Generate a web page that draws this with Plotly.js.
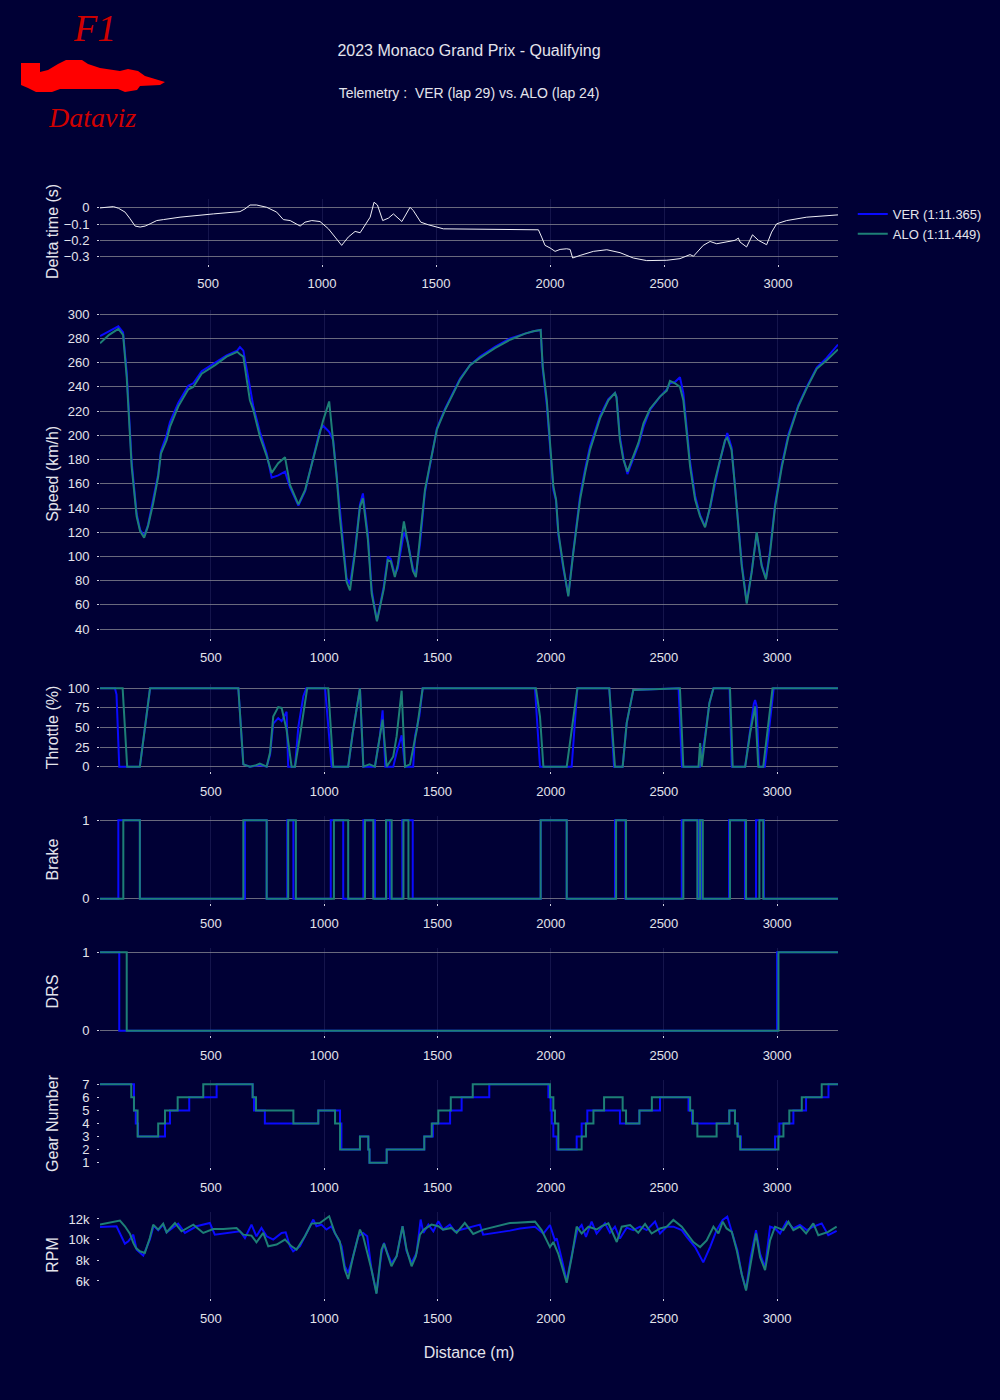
<!DOCTYPE html>
<html>
<head>
<meta charset="utf-8">
<script src="https://cdn.plot.ly/plotly-3.0.1.min.js"></script>
<style>html,body{margin:0;padding:0;background:#000035;}</style>
</head>
<body>
<div id="chart" style="width:1000px;height:1400px;"></div>
<script>
// ---------------- DATA ----------------
const drivers = ['VER (1:11.365)', 'ALO (1:11.449)'];

const deltaDist = [26, 85, 107, 136, 158, 180, 202, 224, 246, 275, 304, 377, 523, 640, 662, 684, 713, 757, 801, 830, 860, 889, 904, 925, 955, 991, 1028, 1057, 1086, 1115, 1145, 1167, 1196, 1211, 1228, 1243, 1266, 1291, 1313, 1350, 1386, 1400, 1433, 1466, 1532, 1700, 1949, 1963, 1978, 2000, 2022, 2044, 2073, 2088, 2099, 2132, 2190, 2249, 2307, 2365, 2424, 2512, 2570, 2614, 2629, 2672, 2702, 2731, 2775, 2811, 2826, 2833, 2862, 2888, 2914, 2950, 2972, 2994, 3038, 3126, 3263];
const deltaTime = [0, 0.008, -0.002, -0.026, -0.067, -0.112, -0.118, -0.112, -0.098, -0.078, -0.072, -0.057, -0.037, -0.023, -0.006, 0.018, 0.018, 0.004, -0.026, -0.072, -0.078, -0.098, -0.112, -0.088, -0.078, -0.084, -0.129, -0.18, -0.231, -0.18, -0.145, -0.153, -0.088, -0.057, 0.035, 0.018, -0.078, -0.063, -0.037, -0.084, 0.004, -0.016, -0.088, -0.104, -0.129, -0.13, -0.135, -0.18, -0.231, -0.247, -0.268, -0.256, -0.252, -0.256, -0.309, -0.293, -0.268, -0.258, -0.276, -0.309, -0.325, -0.323, -0.313, -0.288, -0.298, -0.231, -0.207, -0.221, -0.207, -0.2, -0.186, -0.21, -0.241, -0.166, -0.2, -0.227, -0.149, -0.098, -0.078, -0.057, -0.043];

const speedDist = [10, 50, 91, 112, 128, 150, 172, 187, 205, 222, 245, 267, 279, 304, 319, 356, 400, 422, 459, 518, 569, 616, 628, 643, 658, 672, 687, 716, 746, 768, 797, 827, 849, 886, 916, 952, 981, 995, 1022, 1040, 1055, 1069, 1091, 1099, 1114, 1136, 1158, 1171, 1193, 1210, 1233, 1263, 1281, 1294, 1312, 1325, 1352, 1369, 1392, 1405, 1423, 1445, 1467, 1498, 1534, 1565, 1600, 1644, 1688, 1754, 1821, 1887, 1924, 1956, 1965, 1983, 1997, 2012, 2024, 2034, 2056, 2078, 2100, 2130, 2152, 2174, 2218, 2255, 2284, 2291, 2306, 2321, 2339, 2365, 2388, 2410, 2439, 2483, 2513, 2527, 2549, 2571, 2586, 2601, 2616, 2638, 2660, 2682, 2704, 2726, 2748, 2770, 2780, 2799, 2814, 2829, 2844, 2866, 2888, 2910, 2932, 2951, 2969, 2991, 3021, 3050, 3094, 3131, 3175, 3219, 3269];
const speedVER = [282, 286, 290, 285, 252, 178, 135, 122, 117, 126, 146, 168, 187, 200, 211, 227, 241, 243, 253, 260, 266, 270, 273, 270, 256, 240, 224, 203, 185, 165, 167, 170, 157, 142, 154, 182, 204, 208, 203, 196, 168, 136, 97, 82, 77, 105, 143, 152, 118, 72, 47, 75, 100, 98, 85, 90, 120, 112, 90, 85, 110, 153, 175, 206, 222, 234, 247, 258, 265, 273, 280, 284, 286, 287, 255, 225, 190, 155, 146, 118, 90, 68, 104, 150, 172, 191, 216, 230, 235, 232, 199, 182, 168, 180, 192, 207, 221, 232, 238, 243, 244, 248, 235, 206, 178, 150, 134, 125, 140, 160, 179, 195, 202, 190, 160, 127, 94, 62, 88, 119, 93, 82, 105, 143, 176, 201, 225, 240, 256, 264, 275];
const speedALO = [276, 283, 288, 283, 248, 174, 133, 121, 115.5, 125, 144, 166, 185, 196, 207, 224, 238, 240, 251, 258, 265, 269, 267, 265, 246, 229, 221, 199, 183, 169, 177, 182, 159, 143, 155, 180, 202, 212, 228, 196, 166, 133, 95, 79, 72, 103, 141, 148, 114, 69, 46.5, 73, 97, 96, 83, 93, 129, 110, 88, 83, 114, 155, 176, 205, 221, 233, 246, 258, 264, 272, 279, 284, 286, 287, 257, 229, 194, 158, 147, 120, 92, 67, 103, 147, 169, 188, 214, 229, 235, 231, 196, 180, 170, 183, 194, 210, 222, 232, 237, 245, 243, 240, 229, 202, 174, 147, 133, 124, 141, 163, 180, 196, 198, 188, 158, 125, 92, 61, 87, 120, 92, 81, 103, 141, 174, 199, 224, 239, 255, 262, 271];

const throttleDistVER = [10, 76, 83, 95, 186, 231, 621, 643, 672, 716, 746, 761, 775, 797, 812, 834, 841, 871, 886, 908, 921, 1004, 1033, 1106, 1126, 1158, 1173, 1224, 1246, 1258, 1270, 1305, 1320, 1342, 1357, 1393, 1401, 1420, 1435, 1931, 1953, 2093, 2118, 2259, 2280, 2318, 2336, 2365, 2565, 2580, 2660, 2682, 2701, 2719, 2790, 2800, 2859, 2881, 2897, 2903, 2910, 2920, 2946, 2985, 3269];
const throttleVER = [100, 100, 92, 0, 0, 100, 100, 3, 0, 2, 0, 15, 55, 62, 58, 70, 0, 0, 51, 90, 100, 100, 0, 0, 43, 100, 0, 0, 39, 72, 0, 0, 18, 40, 0, 0, 39, 64, 100, 100, 0, 0, 100, 100, 0, 0, 56, 98, 100, 0, 0, 39, 81, 100, 100, 0, 0, 43, 80, 85, 77, 0, 0, 100, 100];
const throttleDistALO = [10, 110, 130, 186, 231, 621, 643, 672, 700, 716, 746, 761, 775, 797, 812, 834, 856, 871, 893, 908, 925, 1018, 1040, 1106, 1126, 1158, 1173, 1200, 1224, 1246, 1258, 1276, 1305, 1320, 1342, 1357, 1379, 1409, 1435, 1935, 1953, 1968, 2071, 2118, 2259, 2284, 2318, 2336, 2365, 2571, 2586, 2653, 2660, 2667, 2682, 2701, 2719, 2792, 2804, 2859, 2881, 2903, 2917, 2939, 2980, 3269];
const throttleALO = [100, 100, 0, 0, 100, 100, 3, 0, 2, 4, 0, 18, 64, 76, 75, 47, 0, 0, 39, 68, 100, 100, 0, 0, 43, 100, 0, 3, 0, 39, 60, 0, 13, 39, 97, 0, 3, 47, 100, 100, 64, 0, 0, 100, 100, 0, 0, 56, 98, 100, 0, 0, 30, 0, 39, 81, 100, 100, 0, 0, 43, 77, 0, 0, 100, 100];

const brakeDistVER = [10, 91, 186, 650, 746, 837, 864, 1029, 1084, 1173, 1224, 1275, 1290, 1345, 1391, 1956, 2071, 2284, 2330, 2579, 2650, 2658, 2668, 2788, 2858, 2907, 2942, 3269];
const brakeVER = [0, 1, 0, 1, 0, 1, 0, 1, 0, 1, 0, 1, 0, 1, 0, 1, 0, 1, 0, 1, 0, 1, 0, 1, 0, 1, 0, 0];
const brakeDistALO = [10, 113, 186, 643, 746, 841, 875, 1043, 1106, 1180, 1217, 1273, 1298, 1350, 1372, 1956, 2071, 2289, 2333, 2586, 2648, 2660, 2672, 2792, 2863, 2922, 2939, 3269];
const brakeALO = [0, 1, 0, 1, 0, 1, 0, 1, 0, 1, 0, 1, 0, 1, 0, 1, 0, 1, 0, 1, 0, 1, 0, 1, 0, 1, 0, 0];

const drsDistVER = [10, 95, 3000, 3269];
const drsVER = [1, 0, 1, 1];
const drsDistALO = [10, 128, 3006, 3269];
const drsALO = [1, 0, 1, 1];

const gearDistVER = [10, 160, 168, 178, 297, 319, 404, 525, 684, 690, 738, 974, 1070, 1076, 1158, 1195, 1200, 1276, 1442, 1480, 1556, 1607, 1729, 1990, 2000, 2005, 2012, 2027, 2115, 2137, 2162, 2196, 2306, 2392, 2483, 2609, 2624, 2789, 2814, 2828, 2840, 2991, 3010, 3072, 3128, 3227, 3269];
const gearVER = [7, 5, 4, 3, 4, 5, 6, 7, 6, 5, 4, 5, 4, 2, 3, 2, 1, 2, 3, 4, 5, 6, 7, 6, 5, 4, 3, 2, 3, 4, 5, 5, 4, 5, 6, 5, 4, 5, 4, 3, 2, 3, 4, 5, 6, 7, 7];
const gearDistALO = [10, 148, 160, 176, 267, 297, 353, 466, 684, 699, 864, 974, 1048, 1070, 1158, 1195, 1200, 1276, 1442, 1475, 1504, 1559, 1656, 1997, 2012, 2019, 2034, 2137, 2156, 2189, 2236, 2318, 2333, 2392, 2447, 2616, 2628, 2648, 2733, 2789, 2814, 2825, 2837, 3006, 3028, 3054, 3109, 3197, 3269];
const gearALO = [7, 6, 5, 3, 4, 5, 6, 7, 6, 5, 4, 5, 4, 2, 3, 2, 1, 2, 3, 4, 5, 6, 7, 6, 5, 4, 2, 3, 4, 5, 6, 5, 4, 5, 6, 5, 4, 3, 4, 5, 4, 3, 2, 3, 4, 5, 6, 7, 7];

const rpmDistVER = [10, 83, 120, 135, 157, 172, 201, 230, 247, 267, 289, 304, 355, 385, 436, 495, 517, 584, 628, 650, 679, 701, 723, 746, 775, 812, 830, 849, 863, 893, 922, 952, 966, 988, 1010, 1032, 1055, 1077, 1091, 1106, 1128, 1150, 1172, 1190, 1209, 1231, 1253, 1264, 1279, 1297, 1320, 1346, 1364, 1386, 1408, 1426, 1438, 1460, 1482, 1504, 1525, 1555, 1577, 1614, 1651, 1688, 1702, 1761, 1820, 1865, 1931, 1968, 1997, 2019, 2027, 2049, 2071, 2093, 2118, 2137, 2156, 2181, 2203, 2240, 2262, 2284, 2306, 2336, 2365, 2395, 2424, 2461, 2483, 2513, 2542, 2579, 2601, 2638, 2674, 2704, 2733, 2760, 2780, 2807, 2825, 2844, 2863, 2883, 2907, 2925, 2947, 2969, 2991, 3013, 3042, 3072, 3101, 3131, 3160, 3197, 3226, 3263];
const rpmVER = [11230, 11290, 9610, 9840, 10480, 9030, 8450, 10000, 11350, 10900, 11450, 10700, 11550, 10650, 11290, 11610, 10480, 10650, 10810, 10160, 11450, 10320, 11130, 10320, 10000, 10650, 10710, 9350, 8870, 9350, 10650, 11940, 11290, 11450, 10970, 11290, 10320, 9350, 7420, 6770, 8390, 10320, 10650, 10320, 7100, 4840, 8710, 9680, 8710, 7740, 8390, 11290, 8870, 7740, 8710, 11940, 10650, 11450, 10810, 11770, 10970, 11450, 10810, 11030, 11290, 11450, 10480, 10650, 10870, 11080, 11250, 10590, 11410, 9930, 10100, 8130, 6000, 8460, 10920, 11410, 10260, 11740, 10590, 11570, 10660, 11250, 10100, 11160, 10920, 11250, 10920, 11740, 10590, 11250, 11250, 10920, 10260, 9280, 7800, 9280, 10920, 11900, 12230, 10260, 8950, 6650, 5180, 8290, 10920, 8620, 7310, 11250, 11080, 10590, 11740, 11080, 11410, 10920, 11250, 11570, 10430, 10850];
const rpmDistALO = [10, 54, 98, 120, 142, 157, 169, 186, 208, 230, 245, 267, 289, 304, 341, 370, 422, 466, 510, 554, 613, 643, 679, 701, 731, 753, 790, 827, 856, 878, 915, 944, 981, 1022, 1047, 1069, 1091, 1106, 1128, 1158, 1172, 1187, 1209, 1231, 1253, 1264, 1283, 1297, 1320, 1346, 1364, 1386, 1405, 1423, 1440, 1474, 1504, 1525, 1562, 1585, 1621, 1658, 1702, 1761, 1820, 1850, 1931, 1960, 1997, 2012, 2034, 2056, 2071, 2093, 2115, 2137, 2167, 2203, 2226, 2255, 2292, 2314, 2351, 2387, 2417, 2446, 2483, 2513, 2542, 2579, 2601, 2630, 2660, 2689, 2719, 2741, 2760, 2777, 2800, 2822, 2844, 2863, 2883, 2907, 2925, 2947, 2969, 2991, 3028, 3050, 3072, 3101, 3128, 3160, 3182, 3226, 3263];
const rpmALO = [11450, 11680, 11840, 11290, 10580, 9680, 9190, 8870, 8710, 10160, 11450, 10970, 11550, 10710, 11610, 10810, 11450, 10650, 11030, 11030, 11130, 10480, 10390, 9740, 10650, 9350, 9520, 10000, 9350, 9030, 10320, 11550, 11610, 12260, 10650, 9840, 7100, 6190, 8390, 10970, 10320, 9030, 7100, 4770, 9030, 9610, 8390, 7420, 8390, 11290, 9030, 7420, 8390, 10480, 10970, 11450, 11290, 10970, 11130, 10650, 11610, 10550, 10970, 11290, 11610, 11640, 11740, 10920, 9280, 9770, 8620, 6980, 5830, 8290, 11250, 10590, 11250, 10980, 11310, 11570, 9770, 11250, 11410, 10660, 11510, 10590, 11080, 11250, 11900, 11250, 10590, 9770, 9280, 9930, 11250, 10590, 11740, 11080, 10750, 8950, 6650, 5080, 7640, 10590, 8290, 7050, 9930, 11250, 10920, 11740, 10920, 11250, 10590, 11570, 10430, 10750, 11250];

const panelTitles = ['Delta time (s)', 'Speed (km/h)', 'Throttle (%)', 'Brake', 'DRS', 'Gear Number', 'RPM'];

// ---------------- STYLE ----------------
const BG = '#000035';
const TXT = '#e4e4ec';
const GRID = 'rgba(140,140,150,0.75)';
const VGRID = 'rgba(60,60,120,0.35)';
const C_VER = '#0a0aff';
const C_ALO = '#1d7f76';

function pair(n, xv, yv, xa, ya, shape, legend) {
  const s = n === 1 ? '' : String(n);
  return [
    {x: xv, y: yv, xaxis: 'x' + s, yaxis: 'y' + s,
     type: 'scatter', mode: 'lines', name: drivers[0], showlegend: legend,
     line: {color: C_VER, width: 2, shape: shape}},
    {x: xa, y: ya, xaxis: 'x' + s, yaxis: 'y' + s,
     type: 'scatter', mode: 'lines', name: drivers[1], showlegend: legend,
     line: {color: C_ALO, width: 2, shape: shape}}
  ];
}

const traces = [
  {x: deltaDist, y: deltaTime, type: 'scatter', mode: 'lines', xaxis: 'x', yaxis: 'y',
   showlegend: false, name: 'Delta', line: {color: '#eeeef5', width: 1}}
].concat(
  pair(2, speedDist, speedVER, speedDist, speedALO, 'linear', true),
  pair(3, throttleDistVER, throttleVER, throttleDistALO, throttleALO, 'linear', false),
  pair(4, brakeDistVER, brakeVER, brakeDistALO, brakeALO, 'hv', false),
  pair(5, drsDistVER, drsVER, drsDistALO, drsALO, 'hv', false),
  pair(6, gearDistVER, gearVER, gearDistALO, gearALO, 'hv', false),
  pair(7, rpmDistVER, rpmVER, rpmDistALO, rpmALO, 'linear', false)
);

const domains = [[0.941, 1.0], [0.6009, 0.899], [0.4795, 0.5587], [0.3594, 0.4386], [0.2393, 0.3185], [0.1192, 0.1984], [0, 0.0783]];
const yd = [0.1, 20, 25, 1, 1, 1, 2000];
const hgrid = [true, true, true, true, true, false, false];

const layout = {
  width: 1000, height: 1400,
  paper_bgcolor: BG, plot_bgcolor: BG,
  font: {family: 'Arial, "Liberation Sans", sans-serif', color: TXT, size: 13},
  margin: {l: 100, r: 162, t: 199, b: 102},
  title: {
    text: '2023 Monaco Grand Prix - Qualifying<br><br><span style="font-size:14px">Telemetry :\u00a0 VER (lap 29) vs. ALO (lap 24)</span>',
    x: 0.5, xref: 'paper', xanchor: 'center', y: 0.9599, yref: 'container', yanchor: 'top',
    font: {size: 16, color: TXT}
  },
  legend: {x: 1.02, y: 1, xanchor: 'left', yanchor: 'top', font: {size: 13, color: TXT},
           bgcolor: 'rgba(0,0,0,0)', tracegroupgap: 0},
  showlegend: true,
  annotations: [
    {text: '<i>F1</i>', xref: 'paper', yref: 'paper', x: -0.0068, y: 1.1556,
     xanchor: 'center', yanchor: 'middle', showarrow: false,
     font: {family: '"Liberation Serif", "DejaVu Serif", serif', size: 38, color: '#d00000'}},
    {text: '<i>Dataviz</i>', xref: 'paper', yref: 'paper', x: -0.0108, y: 1.0746,
     xanchor: 'center', yanchor: 'middle', showarrow: false,
     font: {family: '"Liberation Serif", "DejaVu Serif", serif', size: 28, color: '#d00000'}}
  ],
  shapes: [
    {type: 'path', xref: 'paper', yref: 'paper', xsizemode: 'pixel', ysizemode: 'pixel',
     xanchor: -0.1084, yanchor: 1.0974,
     path: 'M1,29 L20,29 L20,20 L28,22 L38,28 L46,32 L62,32 L68,28 L80,24 L100,21 L108,23 L118,21 L125,16 L145,10 L140,7 L120,6 L117,2 L105,0 L98,3 L40,3 L32,0 L16,0 L8,4 L1,7 Z',
     fillcolor: '#ff0000', line: {width: 0}}
  ]
};

for (let i = 0; i < 7; i++) {
  const n = i + 1;
  const sx = n === 1 ? '' : String(n);
  layout['xaxis' + sx] = {
    domain: [0, 1], anchor: 'y' + sx,
    range: n === 1 ? [26, 3263] : [10, 3269],
    dtick: 500, tick0: 0,
    showgrid: true, gridcolor: VGRID, zeroline: false, showline: false,
    ticks: 'outside', ticklen: 2, tickcolor: '#cfcfdf', ticklabelstandoff: 6,
    tickfont: {size: 13, color: TXT},
    title: n === 7 ? {text: 'Distance (m)', font: {size: 16, color: TXT}, standoff: 22} : {text: ''}
  };
  layout['yaxis' + sx] = {
    domain: domains[i], anchor: 'x' + sx,
    dtick: yd[i],
    showgrid: hgrid[i], gridcolor: GRID, zeroline: false, showline: false,
    ticks: 'outside', ticklen: 2, tickcolor: '#cfcfdf', ticklabelstandoff: 5,
    tickfont: {size: 13, color: TXT},
    title: {text: panelTitles[i], font: {size: 16, color: TXT}}
  };
}

Plotly.newPlot('chart', traces, layout, {displayModeBar: false, responsive: false});
</script>
</body>
</html>
